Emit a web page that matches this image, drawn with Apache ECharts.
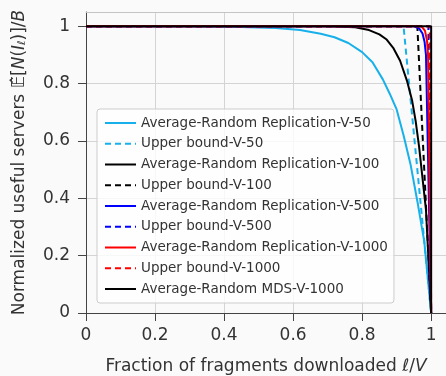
<!DOCTYPE html>
<html>
<head>
<meta charset="utf-8">
<script src="https://cdn.jsdelivr.net/npm/echarts@6/dist/echarts.min.js"></script>
<style>
  html, body { margin: 0; padding: 0; background: #fafafa; }
  #chart { width: 446px; height: 376px; }
</style>
</head>
<body>
<div id="chart"></div>
<script>
// values
const tickValues = [0, 0.2, 0.4, 0.6, 0.8, 1]

const v50X = [0, 0.3, 0.45, 0.55, 0.62, 0.68, 0.72, 0.76, 0.8, 0.83, 0.86, 0.88, 0.9, 0.92, 0.94, 0.96, 0.98, 1]
const v50Y = [1, 1, 0.998, 0.994, 0.987, 0.974, 0.962, 0.942, 0.91, 0.875, 0.815, 0.765, 0.71, 0.62, 0.52, 0.39, 0.25, 0]
const ub50X = [0, 0.92, 1]
const ub50Y = [1, 1, 0]

const v100X = [0, 0.7, 0.78, 0.82, 0.85, 0.87, 0.89, 0.91, 0.93, 0.945, 0.955, 0.965, 0.975, 0.985, 1]
const v100Y = [1, 1, 0.997, 0.987, 0.972, 0.955, 0.925, 0.88, 0.81, 0.74, 0.67, 0.58, 0.47, 0.36, 0]
const ub100X = [0, 0.96, 1]
const ub100Y = [1, 1, 0]

const v500X = [0, 0.95, 0.965, 0.975, 0.981, 0.985, 1]
const v500Y = [1, 1, 0.993, 0.975, 0.945, 0.9, 0]
const ub500X = [0, 0.992, 1]
const ub500Y = [1, 1, 0]

const v1000X = [0, 0.972, 0.982, 0.988, 0.991, 1]
const v1000Y = [1, 1, 0.985, 0.95, 0.9, 0]
const ub1000X = [0, 0.996, 1]
const ub1000Y = [1, 1, 0]

const mdsX = [0, 1, 1]
const mdsY = [1, 1, 0]

const font = 'DejaVu Sans'
const textColor = '#333'

function pts(xs, ys) {
  return xs.map((x, i) => [x, ys[i]])
}

function lineSeries(name, xs, ys, color, dashed) {
  return {
    name: name,
    type: 'line',
    data: pts(xs, ys),
    symbol: 'none',
    xAxisIndex: 0,
    lineStyle: { color: color, width: 2, type: dashed ? [6, 4] : 'solid' },
    itemStyle: { color: color },
    z: 3
  }
}

const chart = echarts.init(document.getElementById('chart'))

const option = {
  backgroundColor: '#fafafa',
  animation: false,
  grid: { left: 86, right: 0, top: 12, bottom: 63, containLabel: false, outerBoundsMode: 'none' },
  legend: {
    orient: 'vertical',
    left: 97,
    top: 109,
    padding: [7, 6, 7, 7],
    itemWidth: 31,
    itemHeight: 14,
    itemGap: 6.75,
    itemStyle: { opacity: 0 },
    lineStyle: { width: 2 },
    backgroundColor: 'rgba(255,255,255,0.8)',
    borderColor: '#cccccc',
    borderWidth: 1,
    borderRadius: 3,
    textStyle: { fontFamily: font, fontSize: 13.5, color: textColor, lineHeight: 14 }
  },
  xAxis: [
    {
      type: 'value',
      min: 0,
      max: 1.043,
      interval: 0.2,
      name: '{t|Fraction of fragments downloaded }{i|ℓ}{t|/}{i|V}',
      nameLocation: 'middle',
      nameGap: 45,
      nameTextStyle: {
        rich: {
          t: { fontFamily: font, fontSize: 17, color: textColor },
          i: { fontFamily: font, fontSize: 17, color: textColor, fontStyle: 'italic' }
        }
      },
      axisLine: { lineStyle: { color: '#444', width: 1 } },
      axisTick: { length: 8, lineStyle: { color: '#444' }, customValues: tickValues },
      axisLabel: { fontFamily: font, fontSize: 17, color: textColor, margin: 14, customValues: tickValues },
      splitLine: { show: true, lineStyle: { color: '#d4d4d4', width: 1 } }
    },
    {
      type: 'value',
      position: 'top',
      min: 0,
      max: 1.043,
      axisLine: { show: true, lineStyle: { color: '#c4c4c4', width: 1 } },
      axisTick: { show: false },
      axisLabel: { show: false },
      splitLine: { show: false }
    }
  ],
  yAxis: {
    type: 'value',
    min: 0,
    max: 1.05,
    interval: 0.2,
    name: '{t|Normalized useful servers }{e|𝔼\u0302}{t|[}{i|N}{t|(}{i|I}{s|ℓ}{t|)]/}{i|B}',
    nameLocation: 'middle',
    nameGap: 58,
    nameTextStyle: {
      rich: {
        t: { fontFamily: font, fontSize: 17, color: textColor },
        e: { fontFamily: font, fontSize: 17, color: textColor },
        i: { fontFamily: font, fontSize: 17, color: textColor, fontStyle: 'italic' },
        s: { fontFamily: font, fontSize: 11, color: textColor, fontStyle: 'italic', verticalAlign: 'bottom' }
      }
    },
    axisLine: { show: true, lineStyle: { color: '#444', width: 1 } },
    axisTick: { show: true, length: 8, lineStyle: { color: '#444' }, customValues: tickValues },
    axisLabel: { fontFamily: font, fontSize: 17, color: textColor, margin: 16, customValues: tickValues },
    splitLine: { show: true, lineStyle: { color: '#d4d4d4', width: 1 } }
  },
  series: [
    lineSeries('Average-Random Replication-V-50', v50X, v50Y, '#17b0ea', false),
    lineSeries('Upper bound-V-50', ub50X, ub50Y, '#17b0ea', true),
    lineSeries('Average-Random Replication-V-100', v100X, v100Y, '#000000', false),
    lineSeries('Upper bound-V-100', ub100X, ub100Y, '#000000', true),
    lineSeries('Average-Random Replication-V-500', v500X, v500Y, '#0000ff', false),
    lineSeries('Upper bound-V-500', ub500X, ub500Y, '#0000ff', true),
    lineSeries('Average-Random Replication-V-1000', v1000X, v1000Y, '#ff0000', false),
    lineSeries('Upper bound-V-1000', ub1000X, ub1000Y, '#ff0000', true),
    lineSeries('Average-Random MDS-V-1000', mdsX, mdsY, '#000000', false)
  ]
}

chart.setOption(option)
</script>
</body>
</html>
